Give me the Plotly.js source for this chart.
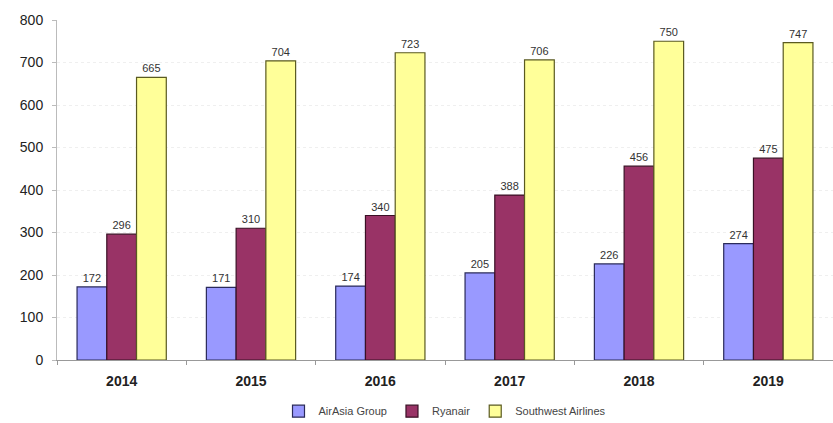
<!DOCTYPE html>
<html>
<head>
<meta charset="utf-8">
<script src="https://cdn.plot.ly/plotly-3.0.1.min.js"></script>
<style>html,body{margin:0;padding:0;background:#fff;}#chart{width:833px;height:423px;}</style>
</head>
<body>
<div id="chart"></div>
<script>
const years = ['2014', '2015', '2016', '2017', '2018', '2019'];
const airAsia = [172, 171, 174, 205, 226, 274];
const ryanair = [296, 310, 340, 388, 456, 475];
const southwest = [665, 704, 723, 706, 750, 747];
const seriesNames = ['AirAsia Group', 'Ryanair', 'Southwest Airlines'];
const yTicks = [0, 100, 200, 300, 400, 500, 600, 700, 800];

function mk(name, vals, fill, edge) {
  return {
    type: 'bar', name: name, x: years, y: vals,
    text: vals.map(String), textposition: 'outside', cliponaxis: false,
    textfont: {family: 'Arial, Liberation Sans', size: 11, color: '#333'},
    marker: {color: fill, line: {color: edge, width: 1.2}}
  };
}
const data = [
  mk(seriesNames[0], airAsia, '#9999FF', '#2a2a5a'),
  mk(seriesNames[1], ryanair, '#993366', '#3a1025'),
  mk(seriesNames[2], southwest, '#FFFF99', '#5a5a20')
];
const layout = {
  width: 833, height: 423,
  margin: {l: 57, r: 0, t: 20, b: 63},
  paper_bgcolor: '#fff', plot_bgcolor: '#fff',
  barmode: 'group', bargap: 0.31, bargroupgap: 0,
  showlegend: true,
  legend: {orientation: 'h', x: 0.5, xanchor: 'center', yref: 'container', y: 0.028, yanchor: 'middle',
           font: {family: 'Arial, Liberation Sans', size: 11, color: '#444'}, itemwidth: 30, traceorder: 'normal'},
  xaxis: {
    type: 'category', range: [-0.5, 5.5], automargin: false,
    showline: true, linecolor: '#999', linewidth: 1,
    ticks: 'outside', tickson: 'boundaries', ticklen: 4, tickcolor: '#999',
    ticklabelstandoff: 8,
    tickfont: {family: 'Arial, Liberation Sans', size: 14, color: '#222', weight: 'bold'},
    showgrid: false
  },
  yaxis: {
    range: [0, 800], tickvals: yTicks, ticktext: yTicks.map(String), automargin: false,
    showline: true, linecolor: '#bbb', linewidth: 1,
    ticks: 'outside', ticklen: 4, tickcolor: '#bbb',
    ticklabelstandoff: 6,
    tickfont: {family: 'Arial, Liberation Sans', size: 14, color: '#222'},
    showgrid: true, gridcolor: '#efefef', griddash: 'dot', zeroline: false
  },
  font: {family: 'Arial, Liberation Sans'}
};
Plotly.newPlot('chart', data, layout, {displayModeBar: false, staticPlot: true});
</script>
</body>
</html>
